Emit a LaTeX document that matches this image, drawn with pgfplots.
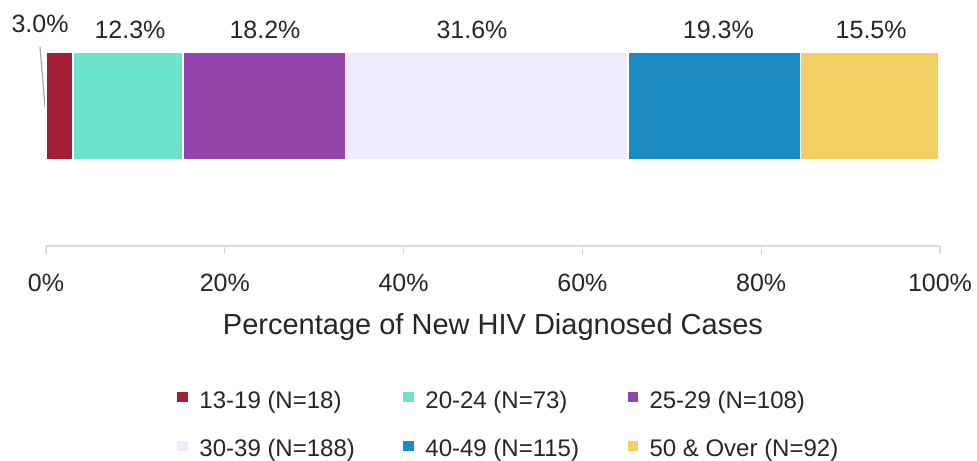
\documentclass[border=0pt]{standalone}
\usepackage{pgfplots}
\pgfplotsset{compat=1.18}
\usepackage{fontspec}
\setmainfont{Liberation Sans}
\definecolor{cRed}{HTML}{A51E37}
\definecolor{cTeal}{HTML}{6EE3CB}
\definecolor{cPurple}{HTML}{9445AC}
\definecolor{cLav}{HTML}{F0EBFC}
\definecolor{cBlue}{HTML}{1B8BC4}
\definecolor{cYellow}{HTML}{F2D064}
\definecolor{lineGray}{HTML}{D9D9D9}
\definecolor{txt}{HTML}{262626}
\newcommand{\lblfont}{\fontsize{25bp}{30bp}\selectfont}
\newcommand{\tickfont}{\fontsize{25bp}{30bp}\selectfont}
\newcommand{\titlefont}{\fontsize{29bp}{34bp}\selectfont}
\newcommand{\legfont}{\fontsize{24bp}{29bp}\selectfont}
\begin{document}
\begin{tikzpicture}
\useasboundingbox (0,0) rectangle (977bp,461bp);
\begin{axis}[
  at={(46bp,215bp)}, anchor=south west,
  scale only axis, width=894bp, height=214bp,
  xmin=0, xmax=100, ymin=0, ymax=214,
  xbar stacked, bar width=108bp,
  axis y line=none, axis x line*=bottom,
  axis line style={draw=lineGray, line width=1.5bp},
  xtick={0,20,40,60,80,100},
  tick align=outside, major tick length=8bp,
  tick style={draw=lineGray, line width=1.2bp},
  xticklabel={\pgfmathprintnumber{\tick}\%},
  /pgf/number format/assume math mode=true,
  xticklabel style={font=\tickfont, text=txt, anchor=base, yshift=-37bp},
  xlabel={Percentage of New HIV Diagnosed Cases},
  xlabel style={font=\titlefont, text=txt, at={(rel axis cs:0.5,0)}, anchor=base, yshift=-88bp},
  clip=false,
  legend columns=3,
  legend cell align=left,
  legend image code/.code={\fill[#1] (0bp,-1bp) rectangle (12bp,11bp); \path (22bp,0bp);},
  legend style={at={(rel axis cs:0.1454,-0.675)}, anchor=north west, draw=none, fill=none,
    inner sep=0pt, outer sep=0pt, row sep=26bp, font=\legfont, text=txt,
    nodes={inner sep=0pt, text height=17bp, text depth=5bp},
    /tikz/every even column/.append style={column sep=47bp}},
]
\addplot[fill=cRed, draw=white, line width=1.5bp] coordinates {(3.0,140)};
\addlegendentry{13-19 (N=18)}
\addplot[fill=cTeal, draw=white, line width=1.5bp] coordinates {(12.3,140)};
\addlegendentry{20-24 (N=73)}
\addplot[fill=cPurple, draw=white, line width=1.5bp] coordinates {(18.2,140)};
\addlegendentry{25-29 (N=108)}
\addplot[fill=cLav, draw=white, line width=1.5bp] coordinates {(31.6,140)};
\addlegendentry{30-39 (N=188)}
\addplot[fill=cBlue, draw=white, line width=1.5bp] coordinates {(19.3,140)};
\addlegendentry{40-49 (N=115)}
\addplot[fill=cYellow, draw=white, line width=1.5bp] coordinates {(15.5,140)};
\addlegendentry{50 \& Over (N=92)}
\draw[color=gray!70, line width=1.2bp] (axis cs:-0.67,199) -- (axis cs:-0.11,139);
\node[anchor=base, font=\lblfont, text=txt, inner sep=0pt] at (axis cs:-0.67,213) {3.0\%};
\node[anchor=base, font=\lblfont, text=txt, inner sep=0pt] at (axis cs:9.4,207) {12.3\%};
\node[anchor=base, font=\lblfont, text=txt, inner sep=0pt] at (axis cs:24.5,207) {18.2\%};
\node[anchor=base, font=\lblfont, text=txt, inner sep=0pt] at (axis cs:47.65,207) {31.6\%};
\node[anchor=base, font=\lblfont, text=txt, inner sep=0pt] at (axis cs:75.2,207) {19.3\%};
\node[anchor=base, font=\lblfont, text=txt, inner sep=0pt] at (axis cs:92.3,207) {15.5\%};
\end{axis}
\end{tikzpicture}
\end{document}
